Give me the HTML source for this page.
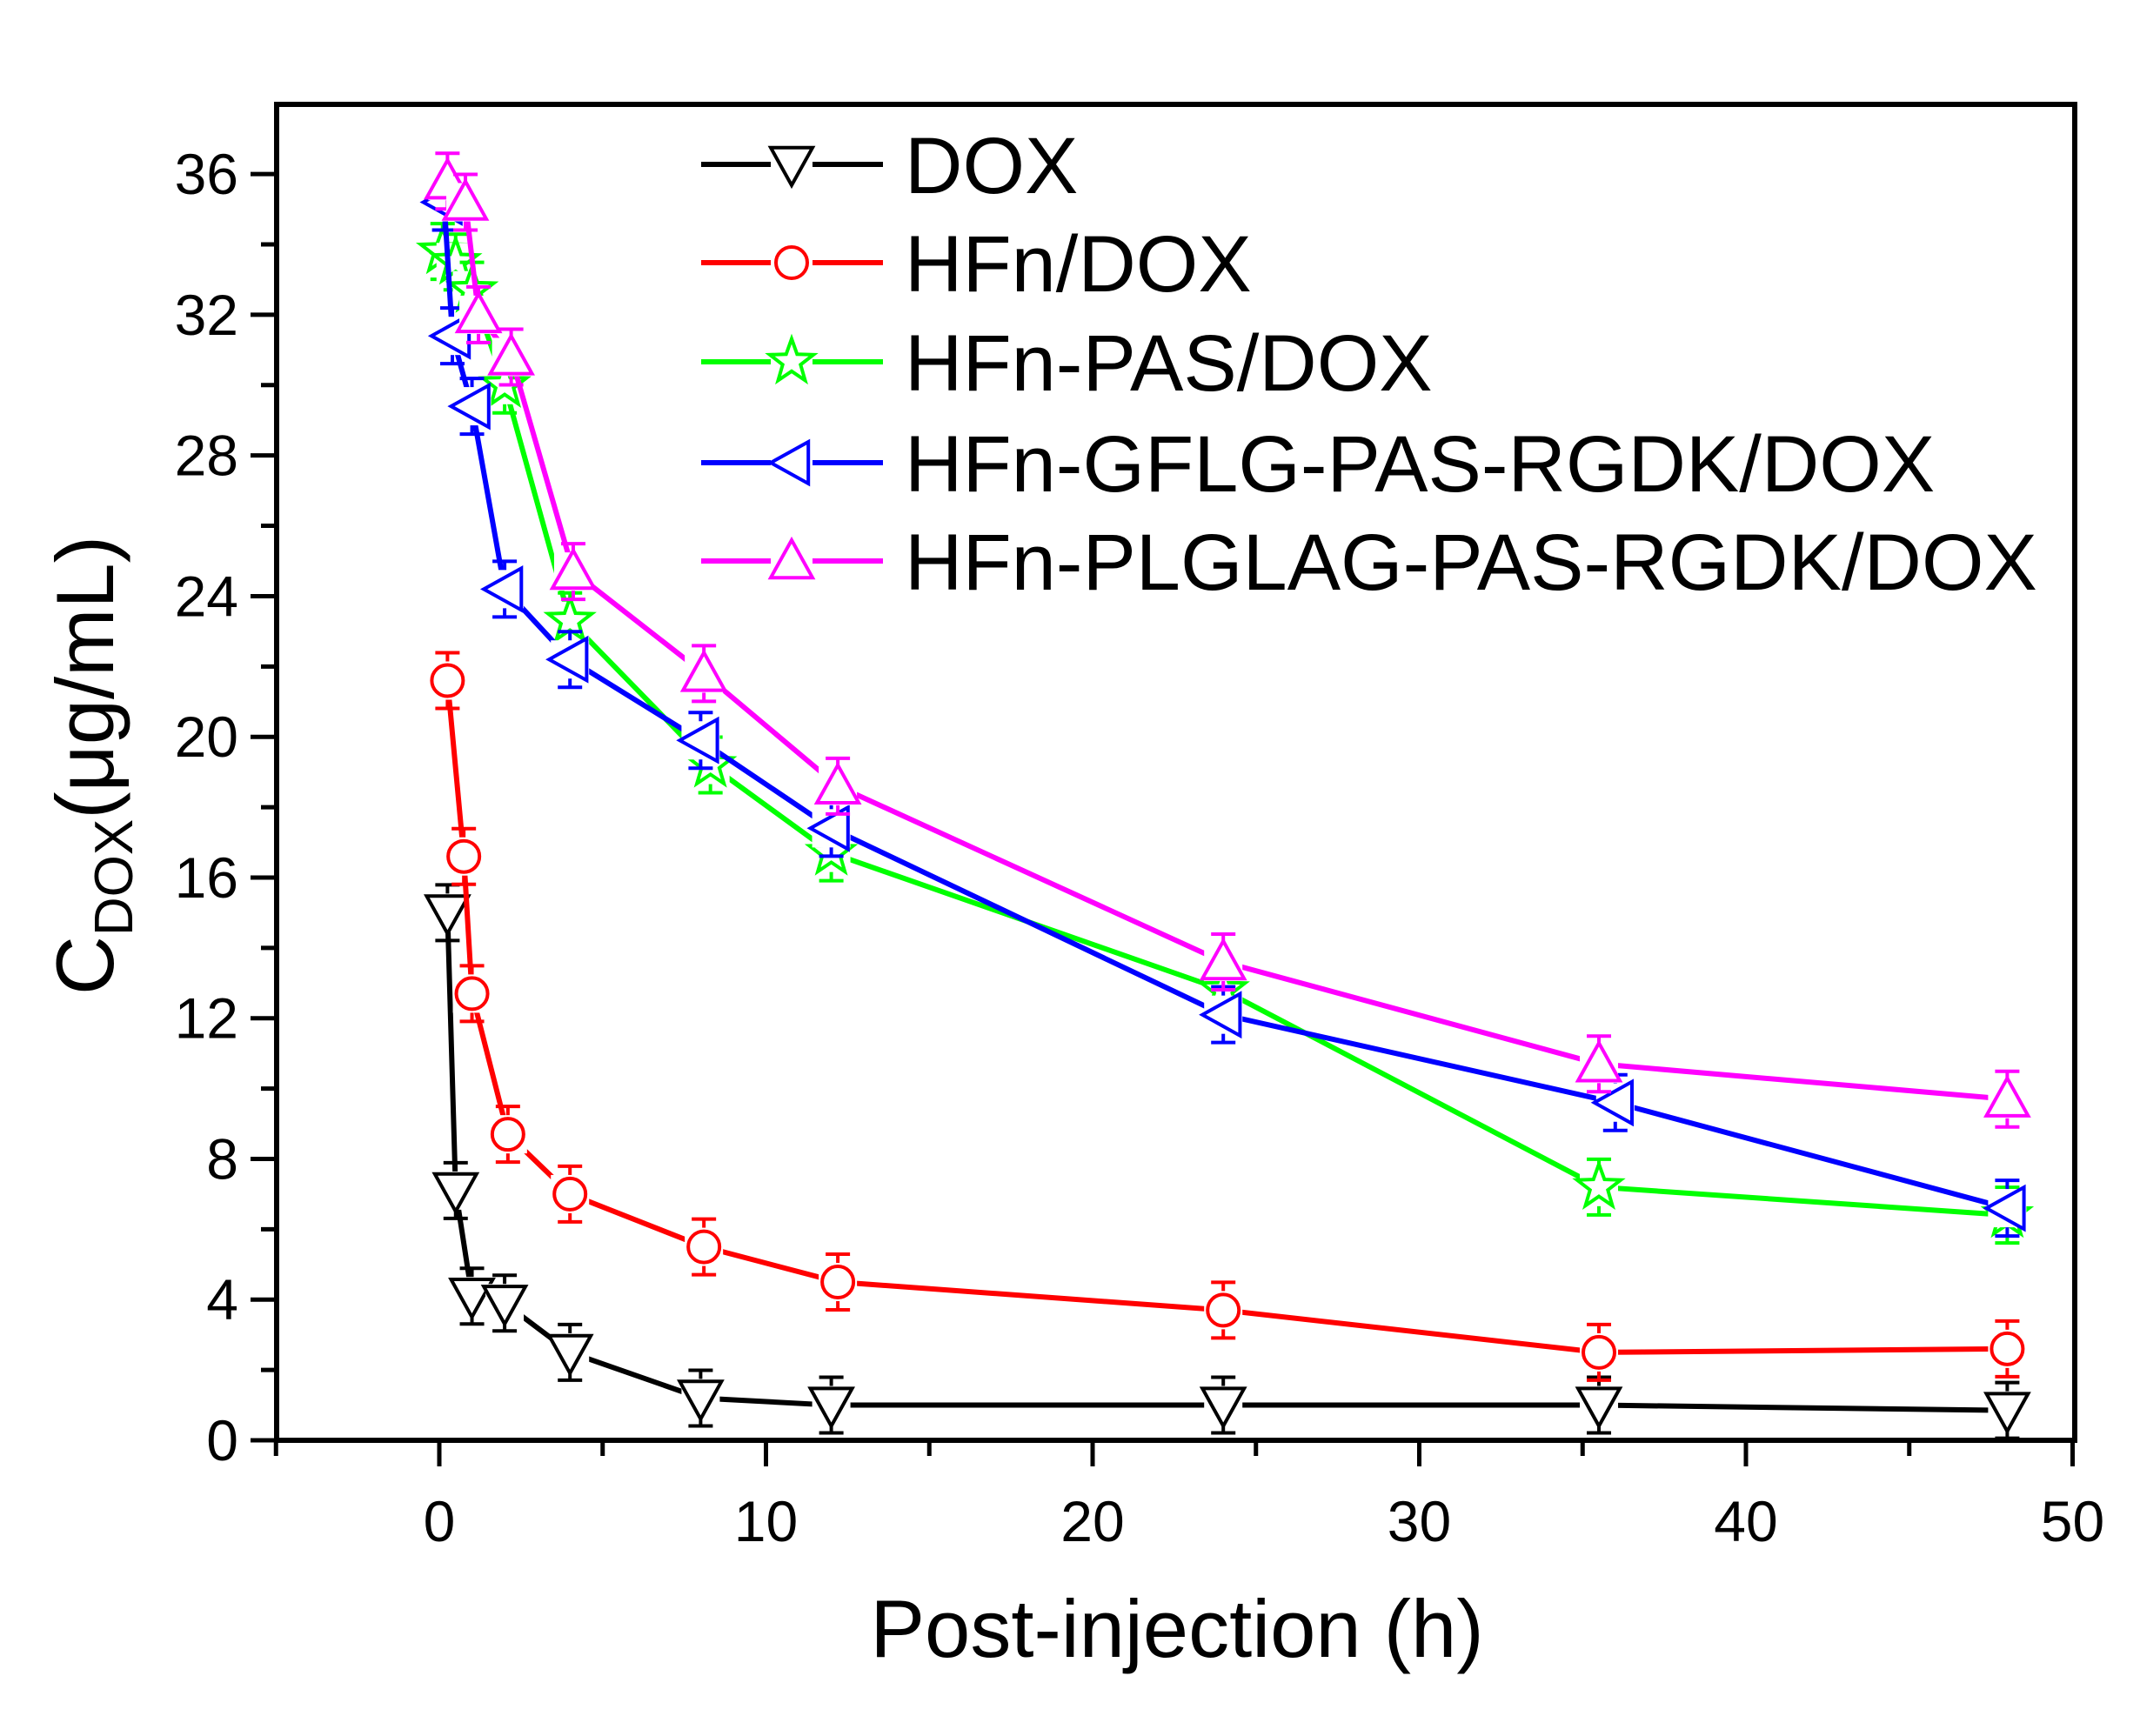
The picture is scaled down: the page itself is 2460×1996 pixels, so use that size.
<!DOCTYPE html>
<html><head><meta charset="utf-8"><style>
html,body{margin:0;padding:0;background:#fff;}
svg{display:block;font-family:"Liberation Sans",Arial,sans-serif;}
</style></head><body>
<svg id="s" width="2460" height="1996" viewBox="0 0 2460 1996" xmlns="http://www.w3.org/2000/svg">
<rect width="2460" height="1996" fill="#fff"/>
<g id="plot"></g>
<rect x="318" y="120" width="2067" height="1536" fill="none" stroke="#000" stroke-width="6"/>
<g font-size="66" fill="#000" text-anchor="end" id="yl"></g>
<g font-size="66" fill="#000" text-anchor="middle" id="xl"></g>
<text x="1353" y="1905" font-size="94" text-anchor="middle">Post-injection (h)</text>
<text transform="translate(130,880) rotate(-90)" font-size="94" text-anchor="middle">C<tspan font-size="62" dy="22">DOX</tspan><tspan dy="-22">(μg/mL)</tspan></text>
<g id="leg" font-size="92"></g>
</svg>
<script>
var NS="http://www.w3.org/2000/svg";
function X(v){return 505+v*37.55;}
function Y(v){return 1656-v*40.44;}
function el(t,a,p){var e=document.createElementNS(NS,t);for(var k in a)e.setAttribute(k,a[k]);(p||document.getElementById('plot')).appendChild(e);return e;}
for(var v=-5;v<=50;v+=5){var maj=(v%10===0);el('line',{x1:X(v),y1:1656,x2:X(v),y2:1656+(maj?30:18),stroke:'#000','stroke-width':5});
 if(maj){var t=el('text',{x:X(v),y:1772},document.getElementById('xl'));t.textContent=v;}}
for(var v=0;v<=37;v+=2){var maj=(v%4===0);el('line',{x1:318,y1:Y(v),x2:318-(maj?30:18),y2:Y(v),stroke:'#000','stroke-width':5});
 if(maj){var t=el('text',{x:274,y:Y(v)+23},document.getElementById('yl'));t.textContent=v;}}
var S=[
 {c:'#000',m:'tri_d',d:[[0.25,15],[0.5,7.1],[1,4.1],[2,3.9],[4,2.5],[8,1.2],[12,1],[24,1],[35.5,1],[48,0.85]]},
 {c:'#ff0000',m:'circ',d:[[0.25,21.6],[0.75,16.6],[1,12.7],[2.1,8.7],[4,7],[8.1,5.5],[12.2,4.5],[24,3.7],[35.5,2.5],[48,2.6]]},
 {c:'#00ff00',m:'star',d:[[0.1,33.8],[0.5,33.5],[1,32.7],[2,30],[4,23.3],[8.3,19.2],[12,16.7],[24,12.8],[35.5,7.2],[48,6.4]]},
 {c:'#0000ff',m:'tri_l',d:[[0.15,35.2],[0.4,31.4],[1,29.4],[2,24.2],[4,22.2],[8,19.9],[12,17.4],[24,12.1],[36,9.6],[48,6.6]]},
 {c:'#ff00ff',m:'tri_u',d:[[0.25,35.8],[0.8,35.2],[1.2,32],[2.2,30.8],[4.1,24.7],[8.1,21.8],[12.2,18.6],[24,13.6],[35.5,10.7],[48,9.7]]}
];
function marker(type,x,y,c,p){var r=24,a={fill:'none',stroke:c,'stroke-width':4};
 if(type==='circ'){a.cx=x;a.cy=y;a.r=18;el('circle',a,p);return;}
 var pts;
 if(type==='tri_d')pts=[[x-r,y-r*0.8],[x+r,y-r*0.8],[x,y+r]];
 if(type==='tri_u')pts=[[x-r,y+r*0.8],[x+r,y+r*0.8],[x,y-r]];
 if(type==='tri_l')pts=[[x+r*0.8,y-r],[x+r*0.8,y+r],[x-r,y]];
 if(type==='star'){pts=[];for(var i=0;i<10;i++){var rr=i%2?r*0.45:r*1.1,an=-Math.PI/2+i*Math.PI/5;pts.push([x+rr*Math.cos(an),y+rr*Math.sin(an)]);}}
 a.points=pts.map(function(q){return q[0].toFixed(1)+','+q[1].toFixed(1)}).join(' ');el('polygon',a,p);}
S.forEach(function(s){
 el('polyline',{points:s.d.map(function(q){return X(q[0])+','+Y(q[1])}).join(' '),fill:'none',stroke:s.c,'stroke-width':6});
 s.d.forEach(function(q){var x=X(q[0]),y=Y(q[1]);
  el('line',{x1:x,y1:y-32,x2:x,y2:y+32,stroke:s.c,'stroke-width':4});
  el('line',{x1:x-14,y1:y-32,x2:x+14,y2:y-32,stroke:s.c,'stroke-width':4});
  el('line',{x1:x-14,y1:y+32,x2:x+14,y2:y+32,stroke:s.c,'stroke-width':4});
  el('rect',{x:x-22,y:y-22,width:44,height:44,fill:'#fff',stroke:'none'});
  marker(s.m,x,y,s.c);});
});
var names=['DOX','HFn/DOX','HFn-PAS/DOX','HFn-GFLG-PAS-RGDK/DOX','HFn-PLGLAG-PAS-RGDK/DOX'];
var rows=[189,302,416,532,645],L=document.getElementById('leg');
S.forEach(function(s,i){var y=rows[i];
 el('line',{x1:806,y1:y,x2:1015,y2:y,stroke:s.c,'stroke-width':6},L);
 el('rect',{x:886,y:y-24,width:48,height:48,fill:'#fff'},L);
 marker(s.m,910,y,s.c,L);
 var t=el('text',{x:1040,y:y+33},L);t.textContent=names[i];});
</script>
</body></html>
